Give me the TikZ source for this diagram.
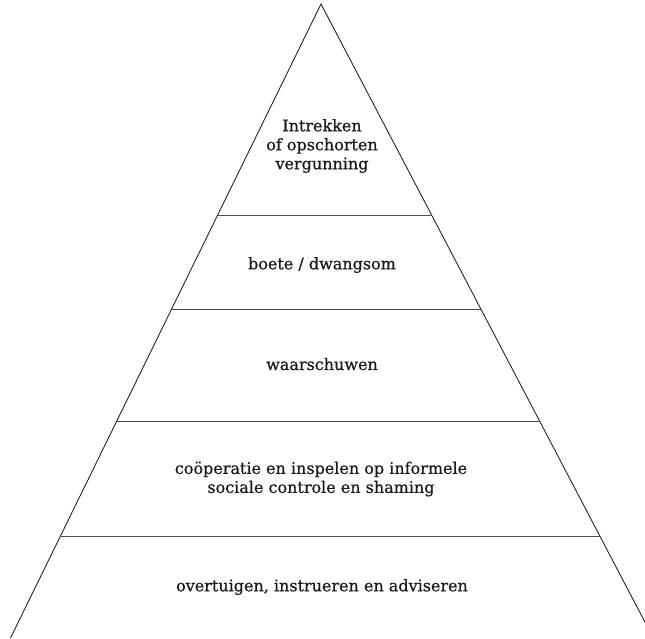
\documentclass[tikz,border=0pt]{standalone}
\usepackage{fontspec}
\setmainfont{DejaVu Serif}
\newfontfamily\lblfont{DejaVu Serif}[FakeBold=0.5]
\begin{document}
\begin{tikzpicture}[x=1pt,y=-1pt,
  edge/.style={draw=black!85,line width=0.9pt},
  tier/.style={draw=black!70,line width=0.9pt},
  lbl/.style={align=center,font=\lblfont\fontsize{16}{19}\selectfont,text=black!90,inner sep=0pt}]
\useasboundingbox (0,0) rectangle (645,638);
\clip (0,0) rectangle (645,638);
\coordinate (apex) at (321,4);
\coordinate (bl) at (10.5,638);
\coordinate (br) at (653.3,638);
\coordinate (l1) at (217.8,215); \coordinate (r1) at (431.9,215);
\coordinate (l2) at (171.9,309); \coordinate (r2) at (481.0,309);
\coordinate (l3) at (117.1,421); \coordinate (r3) at (539.6,421);
\coordinate (l4) at (60.9,536);  \coordinate (r4) at (599.7,536);
\draw[edge] (bl) -- (apex) -- (br);
\draw[tier] (l1) -- (r1);
\draw[tier] (l2) -- (r2);
\draw[tier] (l3) -- (r3);
\draw[tier] (l4) -- (r4);
\node[lbl] (t1) at (322,146) {Intrekken\\of opschorten\\vergunning};
\node[lbl] (t2) at (322,265) {boete / dwangsom};
\node[lbl] (t3) at (322,364) {waarschuwen};
\node[lbl] (t4) at (321,479) {coöperatie en inspelen op informele\\sociale controle en shaming};
\node[lbl] (t5) at (322,587) {overtuigen, instrueren en adviseren};
\end{tikzpicture}
\end{document}
